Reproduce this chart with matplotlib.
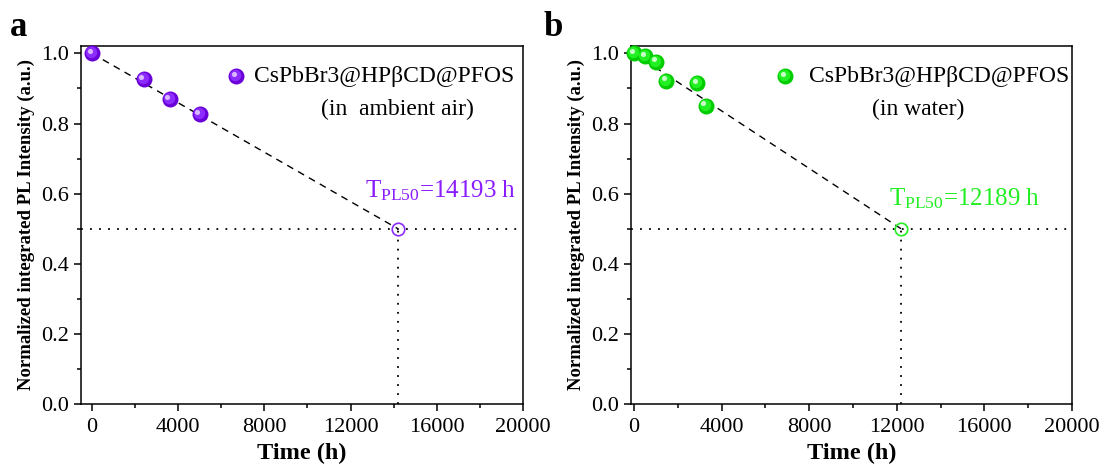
import matplotlib
matplotlib.use("Agg")
import matplotlib.pyplot as plt
import matplotlib.transforms as mtransforms
from matplotlib.ticker import MultipleLocator

plt.rcParams["font.family"] = ["Liberation Serif", "DejaVu Serif"]
plt.rcParams["mathtext.fontset"] = "custom"
plt.rcParams["mathtext.rm"] = "Liberation Serif"
plt.rcParams["mathtext.it"] = "Liberation Serif:italic"
plt.rcParams["mathtext.bf"] = "Liberation Serif:bold"

# Stability data (time in hours, normalized PL intensity)
air_time = [0, 2400, 3600, 5000]
air_pl = [1.0, 0.926, 0.869, 0.826]
air_t50 = 14193

water_time = [0, 500, 1000, 1460, 2880, 3270]
water_pl = [1.0, 0.992, 0.976, 0.922, 0.916, 0.851]
water_t50 = 12189

sample_name = "CsPbBr3@HPβCD@PFOS"
conditions = ["(in  ambient air)", "(in water)"]
panel_letters = ["a", "b"]
x_ticks = [0, 4000, 8000, 12000, 16000, 20000]
y_ticks = [0.0, 0.2, 0.4, 0.6, 0.8, 1.0]

purple = ["#6a00d8", "#8c2cff", "#d9b8ff"]
green = ["#00cc00", "#22f022", "#c8ffc8"]
purple_text = "#8a1cff"
green_text = "#22ee22"


def sphere(ax, x, y, shades, size=11.5, transform=None, zorder=5):
    """Draw glossy spherical markers using layered circles."""
    base = transform if transform is not None else ax.transData
    fig = ax.figure
    ax.plot(x, y, "o", ms=size, color=shades[0], mec=shades[0], mew=0,
            transform=base, zorder=zorder, clip_on=False)
    t1 = mtransforms.offset_copy(base, fig=fig, x=-0.7, y=0.7, units="points")
    ax.plot(x, y, "o", ms=size * 0.72, color=shades[1], mew=0,
            transform=t1, zorder=zorder + 0.1, clip_on=False)
    t2 = mtransforms.offset_copy(base, fig=fig, x=-1.7, y=1.7, units="points")
    ax.plot(x, y, "o", ms=size * 0.32, color=shades[2], mew=0,
            transform=t2, zorder=zorder + 0.2, clip_on=False)


fig = plt.figure(figsize=(11.05, 4.71), dpi=100)
ax_a = fig.add_axes([81 / 1105, 67 / 471, 442 / 1105, 358.3 / 471])
ax_b = fig.add_axes([631 / 1105, 67 / 471, 441 / 1105, 358.3 / 471])

panels = [
    (ax_a, air_time, air_pl, air_t50, purple, purple_text, -510,
     (0.351, 0.915), 0.391, (0.717, 0.821), (0.643, 0.578)),
    (ax_b, water_time, water_pl, water_t50, green, green_text, -140,
     (0.349, 0.915), 0.404, (0.651, 0.821), (0.585, 0.555)),
]

for i, (ax, t, pl, t50, shades, tcolor, xmin, leg_mk, leg_x, cond_xy, lab_xy) in enumerate(panels):
    ax.set_xlim(xmin, 20000)
    ax.set_ylim(0, 1.022)

    # linear extrapolation to half intensity
    ax.plot([0, t50], [1.0, 0.5], color="black", lw=1.0, ls=(0, (5, 4)), zorder=3)
    ax.axhline(0.5, color="black", lw=1.3, ls=(0, (1, 4)), zorder=2)
    ax.plot([t50, t50], [0, 0.5], color="black", lw=1.3, ls=(0, (1, 4)), zorder=2)
    ax.plot([t50], [0.5], "o", ms=9, mfc="none", mec=shades[1], mew=1.2, zorder=4)

    sphere(ax, t, pl, shades)

    # legend entry
    sphere(ax, [leg_mk[0]], [leg_mk[1]], shades, transform=ax.transAxes)
    ax.text(leg_x, leg_mk[1], sample_name, transform=ax.transAxes,
            fontsize=17, va="center", ha="left")
    ax.text(cond_xy[0], cond_xy[1], conditions[i], transform=ax.transAxes,
            fontsize=17, va="center", ha="center")

    ax.text(lab_xy[0], lab_xy[1], r"T$_{\mathrm{PL50}}$=%d h" % t50,
            transform=ax.transAxes, fontsize=18, color=tcolor,
            ha="left", va="baseline")

    ax.set_xticks(x_ticks)
    ax.set_xticklabels([str(v) for v in x_ticks])
    ax.set_yticks(y_ticks)
    ax.set_yticklabels(["%.1f" % v for v in y_ticks])
    ax.xaxis.set_minor_locator(MultipleLocator(2000))
    ax.yaxis.set_minor_locator(MultipleLocator(0.1))
    ax.tick_params(which="major", direction="out", length=5, width=1.1,
                   labelsize=16, pad=4)
    ax.tick_params(axis="x", which="major", pad=5)
    ax.tick_params(which="minor", direction="out", length=3, width=1.1)
    for s in ax.spines.values():
        s.set_linewidth(1.1)

    ax.set_xlabel("Time (h)", fontsize=17.5, fontweight="bold", labelpad=4)
    ax.set_ylabel("Normalized integrated PL Intensity (a.u.)", fontsize=13.5,
                  fontweight="bold", labelpad=4)

fig.text(10 / 1105, 1 - 36 / 471, panel_letters[0], fontsize=25,
         fontweight="bold", va="baseline", ha="left")
fig.text(543 / 1105, 1 - 36 / 471, panel_letters[1], fontsize=25,
         fontweight="bold", va="baseline", ha="left")

fig.savefig("out.png", dpi=100)
